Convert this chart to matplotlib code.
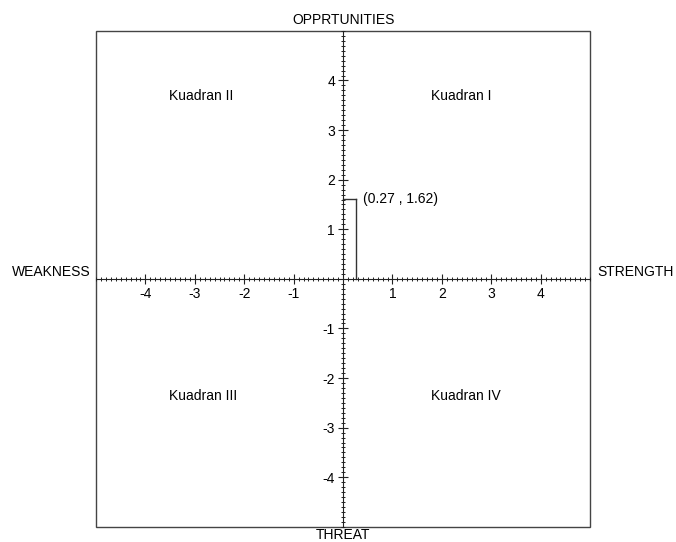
import matplotlib.pyplot as plt
from matplotlib.patches import Rectangle
from matplotlib.ticker import MultipleLocator, FixedLocator

plt.rcParams['font.family'] = ['Liberation Sans', 'DejaVu Sans']

# Data
point_x = 0.27
point_y = 1.62
major_ticks = [-4, -3, -2, -1, 1, 2, 3, 4]
quad_names = ['Kuadran I', 'Kuadran II', 'Kuadran III', 'Kuadran IV']
quad_x = [1.78, -3.52, -3.52, 1.78]
quad_y = [3.68, 3.68, -2.36, -2.36]
axis_names = ['STRENGTH', 'WEAKNESS', 'OPPRTUNITIES', 'THREAT']

fs = 10

fig = plt.figure(figsize=(6.76, 5.42), dpi=100)
ax = fig.add_axes([0.142, 0.028, 0.731, 0.915])
ax.set_xlim(-5, 5)
ax.set_ylim(-5, 5)

# axes crossing at origin
for side in ['top', 'right']:
    ax.spines[side].set_visible(False)
for side in ['left', 'bottom']:
    ax.spines[side].set_position(('data', 0))
    ax.spines[side].set_linewidth(0.8)
    ax.spines[side].set_color('#222222')

ax.xaxis.set_major_locator(FixedLocator(major_ticks))
ax.yaxis.set_major_locator(FixedLocator(major_ticks))
ax.xaxis.set_minor_locator(MultipleLocator(0.1))
ax.yaxis.set_minor_locator(MultipleLocator(0.1))
ax.tick_params(which='major', direction='inout', length=7.5, width=0.8,
               color='#222222', labelsize=fs, pad=2)
ax.tick_params(which='minor', direction='inout', length=3.5, width=0.7,
               color='#222222')
ax.set_xticklabels([str(t) for t in major_ticks])
ax.set_yticklabels([str(t) for t in major_ticks])

# outer box
ax.add_patch(Rectangle((0, 0), 1, 1, transform=ax.transAxes, fill=False,
                       edgecolor='#444444', linewidth=1.0, clip_on=False))

# point guide lines
ax.plot([point_x, point_x], [0, point_y], color='#333333', lw=1.0)
ax.plot([0, point_x], [point_y, point_y], color='#333333', lw=1.0)
ax.text(point_x + 0.13, point_y, f'({point_x} , {point_y})', fontsize=fs,
        va='center', ha='left')

for name, qx, qy in zip(quad_names, quad_x, quad_y):
    ax.text(qx, qy, name, fontsize=fs, va='center', ha='left')

# axis names
ax.text(1.015, 0.5, axis_names[0], transform=ax.transAxes, fontsize=fs,
        va='bottom', ha='left')
ax.text(-0.01, 0.5, axis_names[1], transform=ax.transAxes, fontsize=fs,
        va='bottom', ha='right')
ax.text(0.5, 1.008, axis_names[2], transform=ax.transAxes, fontsize=fs,
        va='bottom', ha='center')
ax.text(0.5, -0.002, axis_names[3], transform=ax.transAxes, fontsize=fs,
        va='top', ha='center')

fig.savefig('out.png', dpi=100)
